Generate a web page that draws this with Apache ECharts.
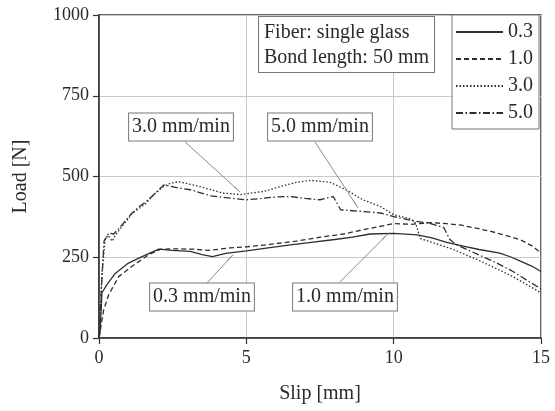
<!DOCTYPE html>
<html><head><meta charset="utf-8">
<script src="https://cdn.jsdelivr.net/npm/echarts@6/dist/echarts.min.js"></script>
<style>html,body{margin:0;padding:0;background:#fff}#c{width:555px;height:411px}</style>
</head><body><div id="c"></div>
<script>
// ---- data (slip [mm], load [N]) ----
const seriesNames = ['0.3', '1.0', '3.0', '5.0'];
const data03 = [[0,0],[0.04,20],[0.1,140],[0.27,165],[0.55,200],[1.0,232],[1.46,252],[2.03,275],[2.48,271],[3.1,268],[3.5,258],[3.85,252],[4.3,262],[5.0,270],[5.8,280],[6.5,288],[7.2,296],[8.0,305],[8.6,312],[9.2,322],[10.0,324],[10.8,319],[11.3,310],[11.8,296],[12.4,284],[12.9,274],[13.6,263],[14.0,250],[14.3,238],[14.7,222],[15,206]];
const data10 = [[0,0],[0.16,87],[0.33,134],[0.67,190],[1.12,222],[1.69,258],[2.1,275],[2.6,276],[3.2,275],[3.7,271],[4.45,279],[5.0,282],[5.8,290],[6.7,300],[7.5,312],[8.3,322],[8.95,335],[9.5,345],[10.0,354],[10.6,352],[11.25,357],[11.8,354],[12.25,350],[12.8,340],[13.3,330],[13.8,318],[14.3,304],[14.7,285],[15,263]];
const data30 = [[0,0],[0.1,200],[0.21,305],[0.3,318],[0.45,300],[0.55,318],[0.78,345],[1.12,385],[1.57,415],[1.91,448],[2.2,470],[2.42,479],[2.7,484],[3.0,478],[3.45,468],[4.2,449],[4.8,444],[5.6,454],[6.2,470],[6.7,482],[7.2,488],[7.85,482],[8.4,458],[8.95,428],[9.55,407],[10.0,382],[10.6,368],[10.75,355],[10.9,308],[11.5,290],[12.0,275],[12.9,240],[13.5,214],[14.05,190],[14.5,166],[15,140]];
const data50 = [[0,0],[0.08,150],[0.17,300],[0.34,325],[0.5,322],[0.78,350],[1.12,387],[1.41,410],[1.57,420],[1.91,448],[2.2,474],[2.6,466],[3.1,459],[3.8,440],[4.45,433],[5.0,428],[5.5,432],[6.05,437],[6.5,438],[7.0,432],[7.5,428],[7.95,438],[8.2,397],[8.9,392],[9.55,387],[10.0,376],[10.7,362],[11.2,356],[11.7,342],[11.9,306],[12.1,290],[12.9,257],[13.5,232],[14.05,206],[14.5,180],[15,152]];
const xTicks = [0, 5, 10, 15];
const yTicks = [0, 250, 500, 750, 1000];
const arrowLabels = ['3.0 mm/min', '5.0 mm/min', '0.3 mm/min', '1.0 mm/min'];
const arrowFrom = [[2.92,607],[7.33,607],[3.67,171],[8.18,174]];
const arrowTo = [[4.79,452],[8.79,403],[4.55,258],[9.81,323]];

// ---- styles ----
const FONT = 'Liberation Serif';
const INK = '#2a2a2a';
const dashes = ['solid', [5,3], [1.5,2], [7,2.5,1.5,2.5]];
const allData = [data03, data10, data30, data50];
const labelPos = [[181,127],[320,127],[202,297],[345,297]];

const chart = echarts.init(document.getElementById('c'), null, {renderer: 'canvas'});

const series = allData.map((d, i) => ({
  name: seriesNames[i],
  type: 'line',
  data: d,
  showSymbol: false,
  symbol: 'none',
  animation: false,
  lineStyle: {color: '#2e2e2e', width: 1.3, type: dashes[i]},
  itemStyle: {color: '#2e2e2e'},
  z: 3
}));
series[0].markLine = {
  silent: true,
  animation: false,
  symbol: ['none', 'arrow'],
  symbolSize: [1, 9],
  label: {show: false},
  lineStyle: {color: '#8a8a8a', width: 1, type: 'solid'},
  itemStyle: {color: '#8a8a8a'},
  data: arrowFrom.map((f, i) => [{coord: f}, {coord: arrowTo[i]}])
};

const graphics = arrowLabels.map((t, i) => ({
  type: 'text',
  x: labelPos[i][0], y: labelPos[i][1],
  z: 10,
  style: {
    text: t, font: '20px "' + FONT + '"', fill: INK,
    align: 'center', verticalAlign: 'middle',
    backgroundColor: '#fff', borderColor: '#777', borderWidth: 1,
    padding: [4, 3, 3, 3]
  }
}));
graphics.push({
  type: 'text', x: 259, y: 17, z: 10,
  style: {
    text: 'Fiber: single glass\nBond length: 50 mm',
    font: '20px "' + FONT + '"', fill: INK, lineHeight: 25,
    align: 'left', verticalAlign: 'top',
    backgroundColor: '#fff', borderColor: '#777', borderWidth: 1,
    padding: [3, 5, 2, 5], width: 165
  }
});

chart.setOption({
  backgroundColor: '#fff',
  animation: false,
  textStyle: {fontFamily: FONT, color: INK},
  grid: {left: 99, right: 14, top: 15, bottom: 73, show: true, borderColor: '#333', borderWidth: 1.5, backgroundColor: 'transparent'},
  legend: {
    orient: 'vertical', left: 452, top: 15,
    data: seriesNames,
    backgroundColor: '#fff', borderColor: '#777', borderWidth: 1,
    padding: [7, 6, 6, 3],
    itemWidth: 47, itemHeight: 14, itemGap: 7,
    itemStyle: {color: 'transparent', borderColor: 'transparent', borderWidth: 0, opacity: 0},
    textStyle: {fontFamily: FONT, fontSize: 20, color: INK},
    z: 10
  },
  xAxis: {
    type: 'value', min: xTicks[0], max: xTicks[xTicks.length-1], interval: 5,
    name: 'Slip [mm]', nameLocation: 'middle', nameGap: 46,
    nameTextStyle: {fontFamily: FONT, fontSize: 20, color: INK},
    axisLine: {show: true, lineStyle: {color: '#333', width: 1.5}},
    axisTick: {show: true, length: 6, lineStyle: {color: '#333', width: 1.2}},
    axisLabel: {fontFamily: FONT, fontSize: 18, color: INK, margin: 11},
    splitLine: {show: true, lineStyle: {color: '#c8c8c8', width: 1}}
  },
  yAxis: {
    type: 'value', min: yTicks[0], max: yTicks[yTicks.length-1], interval: 250,
    name: 'Load [N]', nameLocation: 'middle', nameGap: 68, nameRotate: 90,
    nameTextStyle: {fontFamily: FONT, fontSize: 20, color: INK},
    axisLine: {show: true, lineStyle: {color: '#333', width: 1.5}},
    axisTick: {show: true, length: 6, lineStyle: {color: '#333', width: 1.2}},
    axisLabel: {fontFamily: FONT, fontSize: 18, color: INK, margin: 10, formatter: v => String(v)},
    splitLine: {show: true, lineStyle: {color: '#c8c8c8', width: 1}}
  },
  graphic: graphics,
  series: series
});
</script></body></html>
